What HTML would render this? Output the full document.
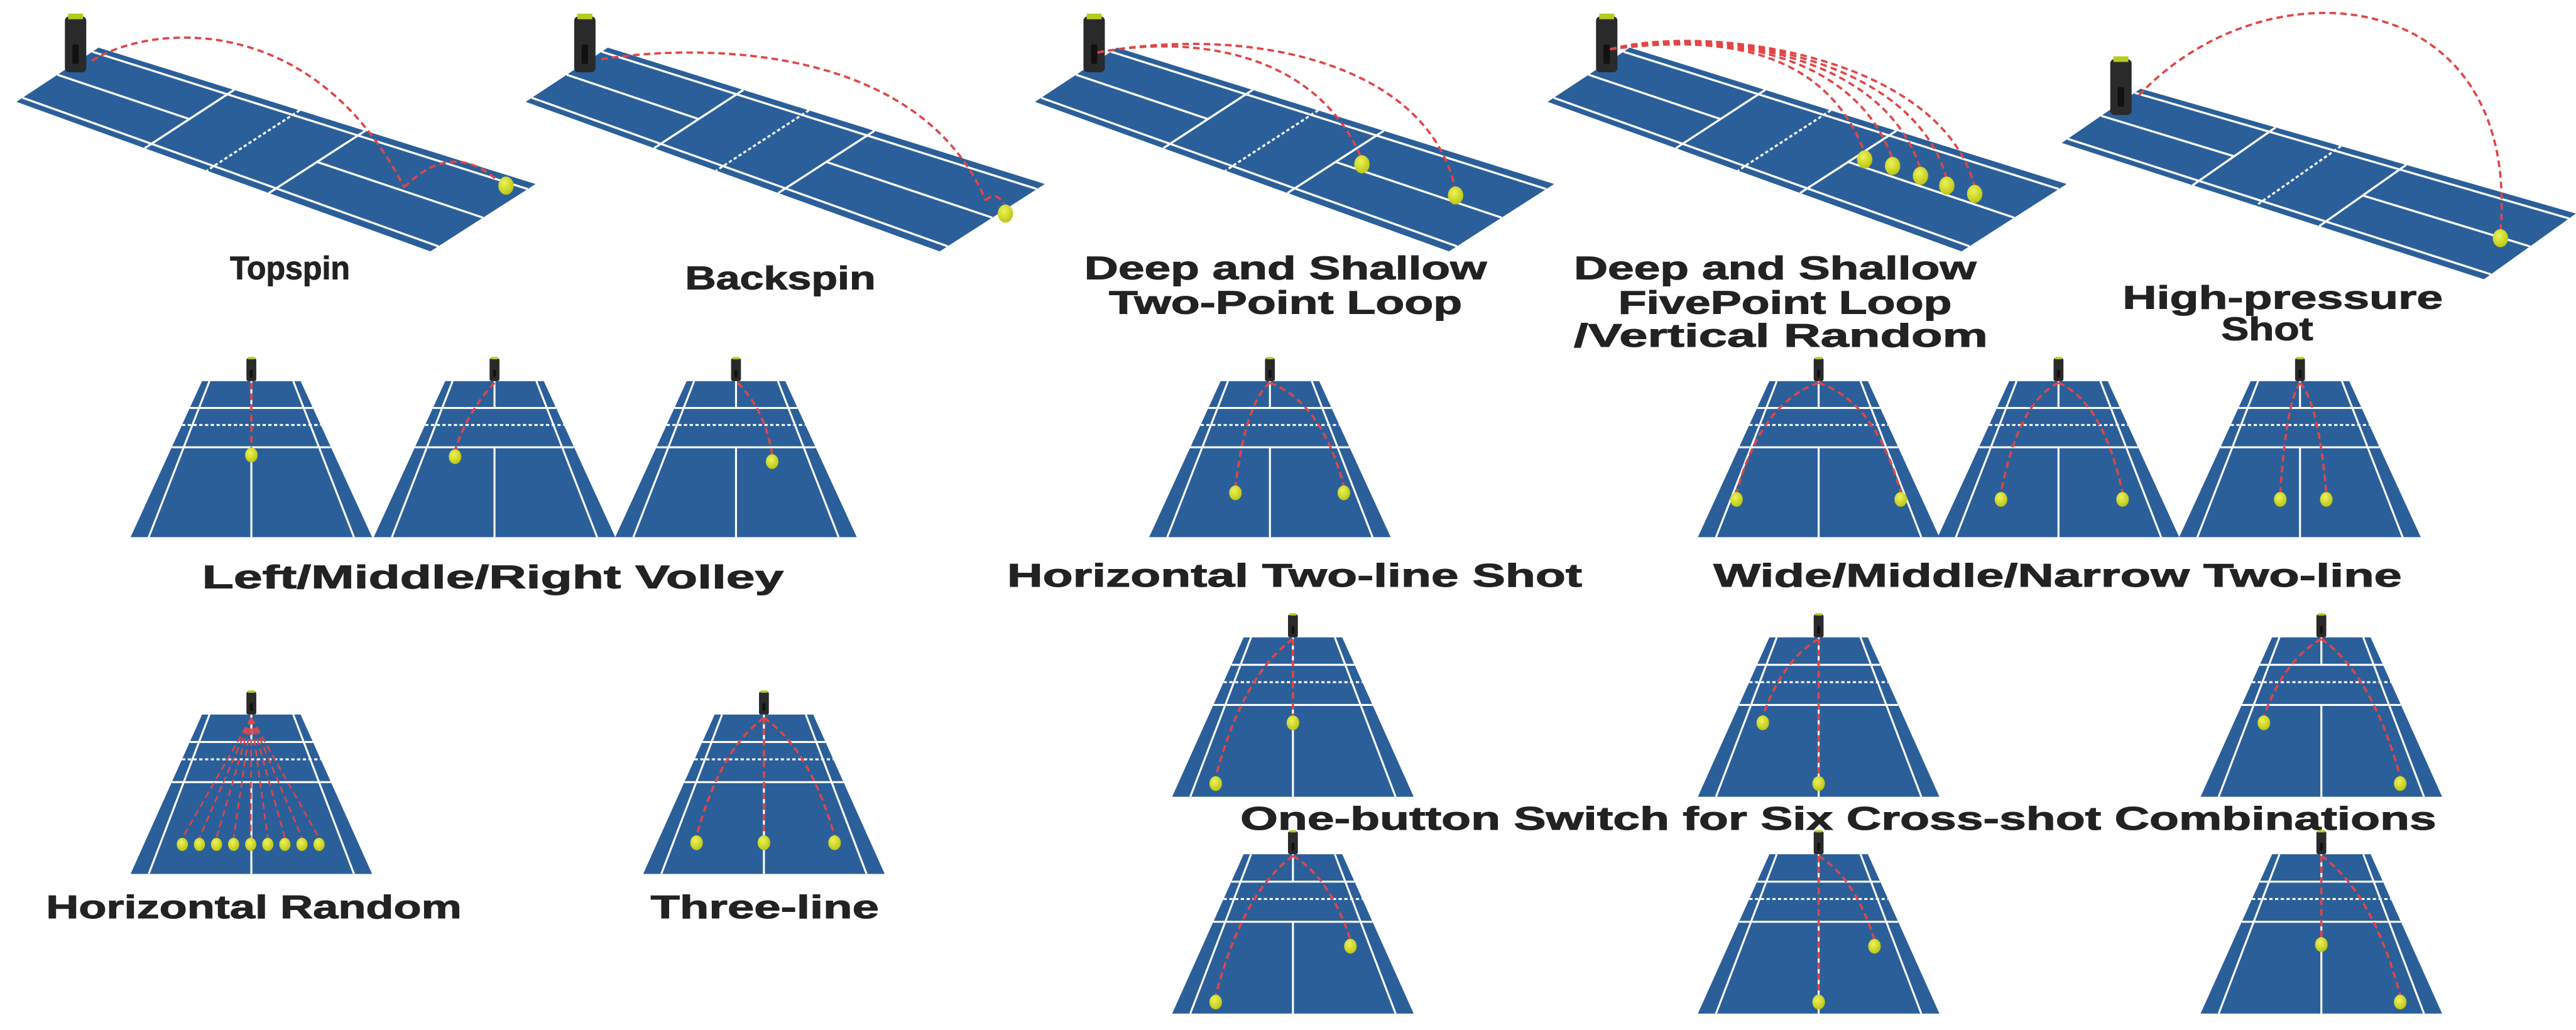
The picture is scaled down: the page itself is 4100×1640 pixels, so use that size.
<!DOCTYPE html>
<html><head><meta charset="utf-8"><style>
html,body{margin:0;padding:0;background:#fff;width:4100px;height:1640px;overflow:hidden}
svg{display:block}
text{font-family:"Liberation Sans",sans-serif;font-weight:bold;fill:#222;font-size:20px;stroke:#222;stroke-width:0.4}
</style></head><body>
<svg id="s" width="4100" height="1640" viewBox="0 0 1568 627" preserveAspectRatio="none" xmlns="http://www.w3.org/2000/svg">
<defs>
<radialGradient id="bg" cx="0.4" cy="0.35" r="0.7"><stop offset="0" stop-color="#eef25a"/><stop offset="1" stop-color="#b8c40e"/></radialGradient>
</defs>
<g id="g"></g>
<text x="140" y="170" textLength="73" lengthAdjust="spacingAndGlyphs">Topspin</text>
<text x="417" y="176" textLength="116" lengthAdjust="spacingAndGlyphs">Backspin</text>
<text x="660" y="170" textLength="245" lengthAdjust="spacingAndGlyphs">Deep and Shallow</text>
<text x="675" y="191" textLength="215" lengthAdjust="spacingAndGlyphs">Two-Point Loop</text>
<text x="958" y="170" textLength="245" lengthAdjust="spacingAndGlyphs">Deep and Shallow</text>
<text x="985" y="191" textLength="203" lengthAdjust="spacingAndGlyphs">FivePoint Loop</text>
<text x="958" y="211" textLength="252" lengthAdjust="spacingAndGlyphs">/Vertical Random</text>
<text x="1292" y="188" textLength="195" lengthAdjust="spacingAndGlyphs">High-pressure</text>
<text x="1352" y="207" textLength="56" lengthAdjust="spacingAndGlyphs">Shot</text>
<text x="123" y="358" textLength="354" lengthAdjust="spacingAndGlyphs">Left/Middle/Right Volley</text>
<text x="613" y="357" textLength="350" lengthAdjust="spacingAndGlyphs">Horizontal Two-line Shot</text>
<text x="1043" y="357" textLength="419" lengthAdjust="spacingAndGlyphs">Wide/Middle/Narrow Two-line</text>
<text x="755" y="505" textLength="728" lengthAdjust="spacingAndGlyphs">One-button Switch for Six Cross-shot Combinations</text>
<text x="28" y="559" textLength="253" lengthAdjust="spacingAndGlyphs">Horizontal Random</text>
<text x="396" y="559" textLength="139" lengthAdjust="spacingAndGlyphs">Three-line</text>
</svg>
<script>
var g=document.getElementById('g'),o='';
var BL='#2b5f9a',RED='#e04646';
function P(a){return a.map(function(p){return p[0].toFixed(1)+','+p[1].toFixed(1)}).join(' ')}
function ln(a,b,w,d){o+='<line x1="'+a[0]+'" y1="'+a[1]+'" x2="'+b[0]+'" y2="'+b[1]+'" stroke="#fff" stroke-width="'+w+'"'+(d?' stroke-dasharray="'+d+'"':'')+'/>';}
function court(m,f,w){
 o+='<polygon points="'+P([m(0,0),m(1,0),m(1,1),m(0,1)])+'" fill="'+BL+'"/>';
 ln(m(0.075,0),m(0.075,1),w);ln(m(0.925,0),m(0.925,1),w);
 ln(m(0,f[0]),m(1,f[0]),w);ln(m(0,f[2]),m(1,f[2]),w);
 ln(m(0,f[1]),m(1,f[1]),w,'2 1.5');
 ln(m(0.5,0),m(0.5,f[0]),w);ln(m(0.5,f[2]),m(0.5,1),w);
}
function quad(A,B,C,D){return function(u,v){
 var x0=A[0]+(B[0]-A[0])*u,y0=A[1]+(B[1]-A[1])*u,x1=D[0]+(C[0]-D[0])*u,y1=D[1]+(C[1]-D[1])*u;
 return [x0+(x1-x0)*v,y0+(y1-y0)*v];}}
function trap(cx,yt,yb,tw,bw){return function(u,v){var w=tw+(bw-tw)*v;return [cx-w/2+u*w,yt+(yb-yt)*v];}}
function mach(x,y,w,h){o+='<rect x="'+(x-w/2)+'" y="'+y+'" width="'+w+'" height="'+h+'" rx="'+(w*0.2)+'" fill="#2a2a2a"/>'+
 '<rect x="'+(x-w*0.35)+'" y="'+(y-h*0.05)+'" width="'+(w*0.7)+'" height="'+(h*0.1)+'" fill="#b5cc1a"/>'+
 '<rect x="'+(x-w*0.15)+'" y="'+(y+h*0.5)+'" width="'+(w*0.3)+'" height="'+(h*0.35)+'" rx="1" fill="#111"/>';}
function ball(x,y,r){o+='<ellipse cx="'+x+'" cy="'+y+'" rx="'+(r*0.85)+'" ry="'+r+'" fill="url(#bg)"/>';}
function pa(d,w){o+='<path d="'+d+'" fill="none" stroke="'+RED+'" stroke-width="'+(w||1.4)+'" stroke-dasharray="4 2.5"/>';}
// top row
var tf=[0.31,0.46,0.61];
[0,310,620,932].forEach(function(dx){court(quad([60+dx,29],[10+dx,62],[262+dx,153],[326+dx,112]),tf,1.3);});
court(quad([1303,54],[1255,87],[1512,170],[1568,130]),tf,1.3);
[[46,10],[356,10],[666,10],[978,10],[1291,36]].forEach(function(p){mach(p[0],p[1],13,34);});
pa('M56,37 C90,15 190,5 246,114');pa('M246,114 Q275,85 303,110');ball(308,113,5.5);
pa('M366,36 C430,26 560,28 600,122');pa('M600,122 Q606,116 611,124');ball(612,130,5.5);
pa('M668,32 C720,22 800,28 829,97');pa('M668,32 C760,15 870,38 886,116');ball(829,100,5.5);ball(886,119,5.5);
[[1135,97],[1152,101],[1169,107],[1185,113],[1202,118]].forEach(function(b,i){pa('M980,30 C1040,'+(22-i*2)+' '+(1110+i*18)+','+(26+i*2)+' '+b[0]+','+(b[1]-4));ball(b[0],b[1],5.5);});
pa('M1302,58 C1380,-25 1535,-10 1522,141');ball(1522,145,5.5);
// trapezoids
var ff=[0.172,0.281,0.424];
function T(cx,yt,yb){court(trap(cx,yt,yb,60,147),ff,1.2);mach(cx,yt-14,6,14);}
[153,301,448,773,1107,1253,1400].forEach(function(c){T(c,232,327);});
[787,1107,1413].forEach(function(c){T(c,388,485);T(c,520,617);});
T(153,435,532);T(465,435,532);
pa('M153,233 L153,273');ball(153,277,4.5);
pa('M301,233 Q285,250 277,274');ball(277,278,4.5);
pa('M449,233 Q466,250 470,277');ball(470,281,4.5);
function two(mx,y0,a,b,y){pa('M'+mx+','+y0+' Q'+(a+(mx-a)*0.3)+','+(y0+12)+' '+a+','+(y-4));pa('M'+mx+','+y0+' Q'+(b+(mx-b)*0.3)+','+(y0+12)+' '+b+','+(y-4));ball(a,y,4.5);ball(b,y,4.5);}
two(773,233,752,818,300);
two(1107,233,1057,1157,304);two(1253,233,1218,1292,304);two(1400,233,1388,1416,304);
function one(mx,y0,x,y){pa('M'+mx+','+y0+' Q'+(x+(mx-x)*0.35)+','+(y0+(y-y0)*0.25)+' '+x+','+(y-4));ball(x,y,4.5);}
one(787,389,740,477);one(787,389,787,440);
one(1107,389,1073,440);one(1107,389,1107,477);
one(1413,389,1378,440);one(1413,389,1461,477);
one(787,521,740,610);one(787,521,822,576);
one(1107,521,1107,610);one(1107,521,1141,576);
one(1413,521,1413,575);one(1413,521,1461,610);
for(var i=0;i<9;i++){var x=111+i*10.4;pa('M153,437 L'+x+',510',1);ball(x,514,4);}
[424,465,508].forEach(function(x){one(465,437,x,513);});
g.innerHTML=o;
</script>
</body></html>
